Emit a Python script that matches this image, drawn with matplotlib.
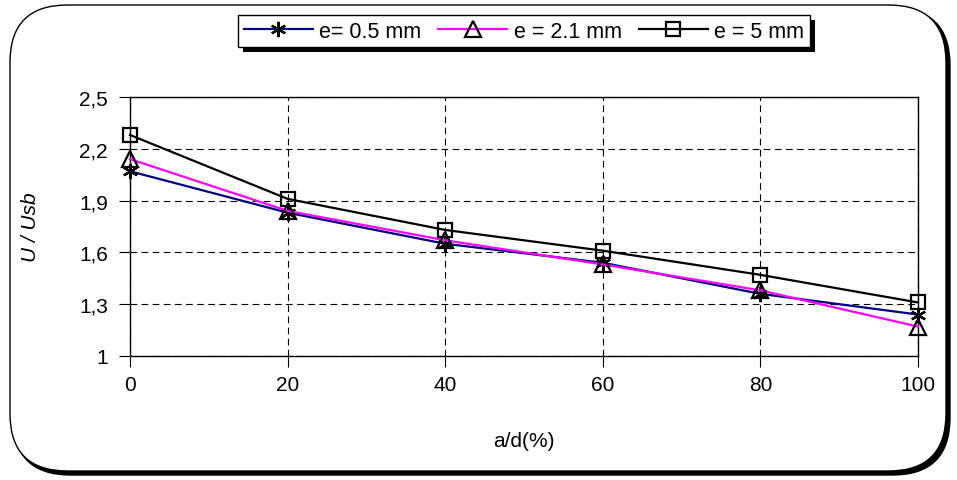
import matplotlib
matplotlib.use("Agg")
import matplotlib.pyplot as plt
from matplotlib.patches import FancyBboxPatch
from matplotlib.ticker import FuncFormatter

plt.rcParams['font.family'] = ['Liberation Sans', 'DejaVu Sans']

a_d = [0, 20, 40, 60, 80, 100]
u_e05 = [2.07, 1.83, 1.65, 1.54, 1.36, 1.24]
u_e21 = [2.14, 1.84, 1.67, 1.53, 1.38, 1.17]
u_e5 = [2.28, 1.91, 1.73, 1.61, 1.47, 1.31]
y_ticks = [1.0, 1.3, 1.6, 1.9, 2.2, 2.5]
x_ticks = [0, 20, 40, 60, 80, 100]

W, H = 957, 481
fig = plt.figure(figsize=(W / 100, H / 100), dpi=100)

# rounded outer frame with drop shadow
shadow = FancyBboxPatch((13 / W, 5 / H), 937 / W, 467 / H,
                        boxstyle="round,pad=0,rounding_size=0.06",
                        transform=fig.transFigure, facecolor='black',
                        edgecolor='black', zorder=0, mutation_aspect=W / H)
frame = FancyBboxPatch((10 / W, 9 / H), 936 / W, 466 / H,
                       boxstyle="round,pad=0,rounding_size=0.06",
                       transform=fig.transFigure, facecolor='white',
                       edgecolor='black', linewidth=1.0, zorder=0.5,
                       mutation_aspect=W / H)
fig.patches.extend([shadow, frame])

ax = fig.add_axes([130 / W, 1 - 357 / H, (918 - 130) / W, (357 - 98) / H])
ax.set_zorder(2)

star = (6, 2, 0)
ax.plot(a_d, u_e05, color='#000080', lw=1.6, marker=star, ms=11, mec='black',
        mew=1.6, label='e= 0.5 mm', zorder=3, clip_on=False)
ax.plot(a_d, u_e21, color='#ff00ff', lw=1.6, marker='^', ms=11, mec='black',
        mfc='none', mew=1.6, label='e = 2.1 mm', zorder=3, clip_on=False)
ax.plot(a_d, u_e5, color='black', lw=1.6, marker='s', ms=10, mec='black',
        mfc='none', mew=1.6, label='e = 5 mm', zorder=3, clip_on=False)

ax.set_xlim(0, 100)
ax.set_ylim(1.0, 2.5)
ax.set_xticks(x_ticks)
ax.set_yticks(y_ticks)
ax.yaxis.set_major_formatter(FuncFormatter(
    lambda v, p: ('%g' % round(v, 1)).replace('.', ',')))
ax.tick_params(direction='out', length=8, width=0.8, labelsize=15)
ax.tick_params(axis='x', pad=6)
ax.tick_params(axis='y', pad=8)
ax.grid(True, color='black', linestyle=(0, (6, 4)), linewidth=0.8)
for s in ax.spines.values():
    s.set_linewidth(1.0)

ax.set_xlabel('a/d(%)', fontsize=15, labelpad=26)
ax.set_ylabel('U / Usb', fontsize=15, style='italic', labelpad=28)

# legend at top with drop shadow
leg = fig.legend(loc='center', bbox_to_anchor=(524 / W, 1 - 32 / H), ncol=3,
                 fontsize=15.5, frameon=True, fancybox=False, shadow=False,
                 handlelength=3.2, handletextpad=0.3, columnspacing=0.8,
                 borderpad=0.25, edgecolor='black', framealpha=1,
                 facecolor='white', markerscale=1.0)
leg.get_frame().set_linewidth(1.0)
leg.set_zorder(5)
fig.canvas.draw()
bb = leg.get_window_extent()
lshadow = plt.Rectangle(((bb.x0 + 5) / W, (bb.y0 - 5) / H), bb.width / W, bb.height / H,
                        transform=fig.transFigure, facecolor='black', edgecolor='none',
                        zorder=4)
fig.patches.append(lshadow)

fig.savefig('out.png', dpi=100)
